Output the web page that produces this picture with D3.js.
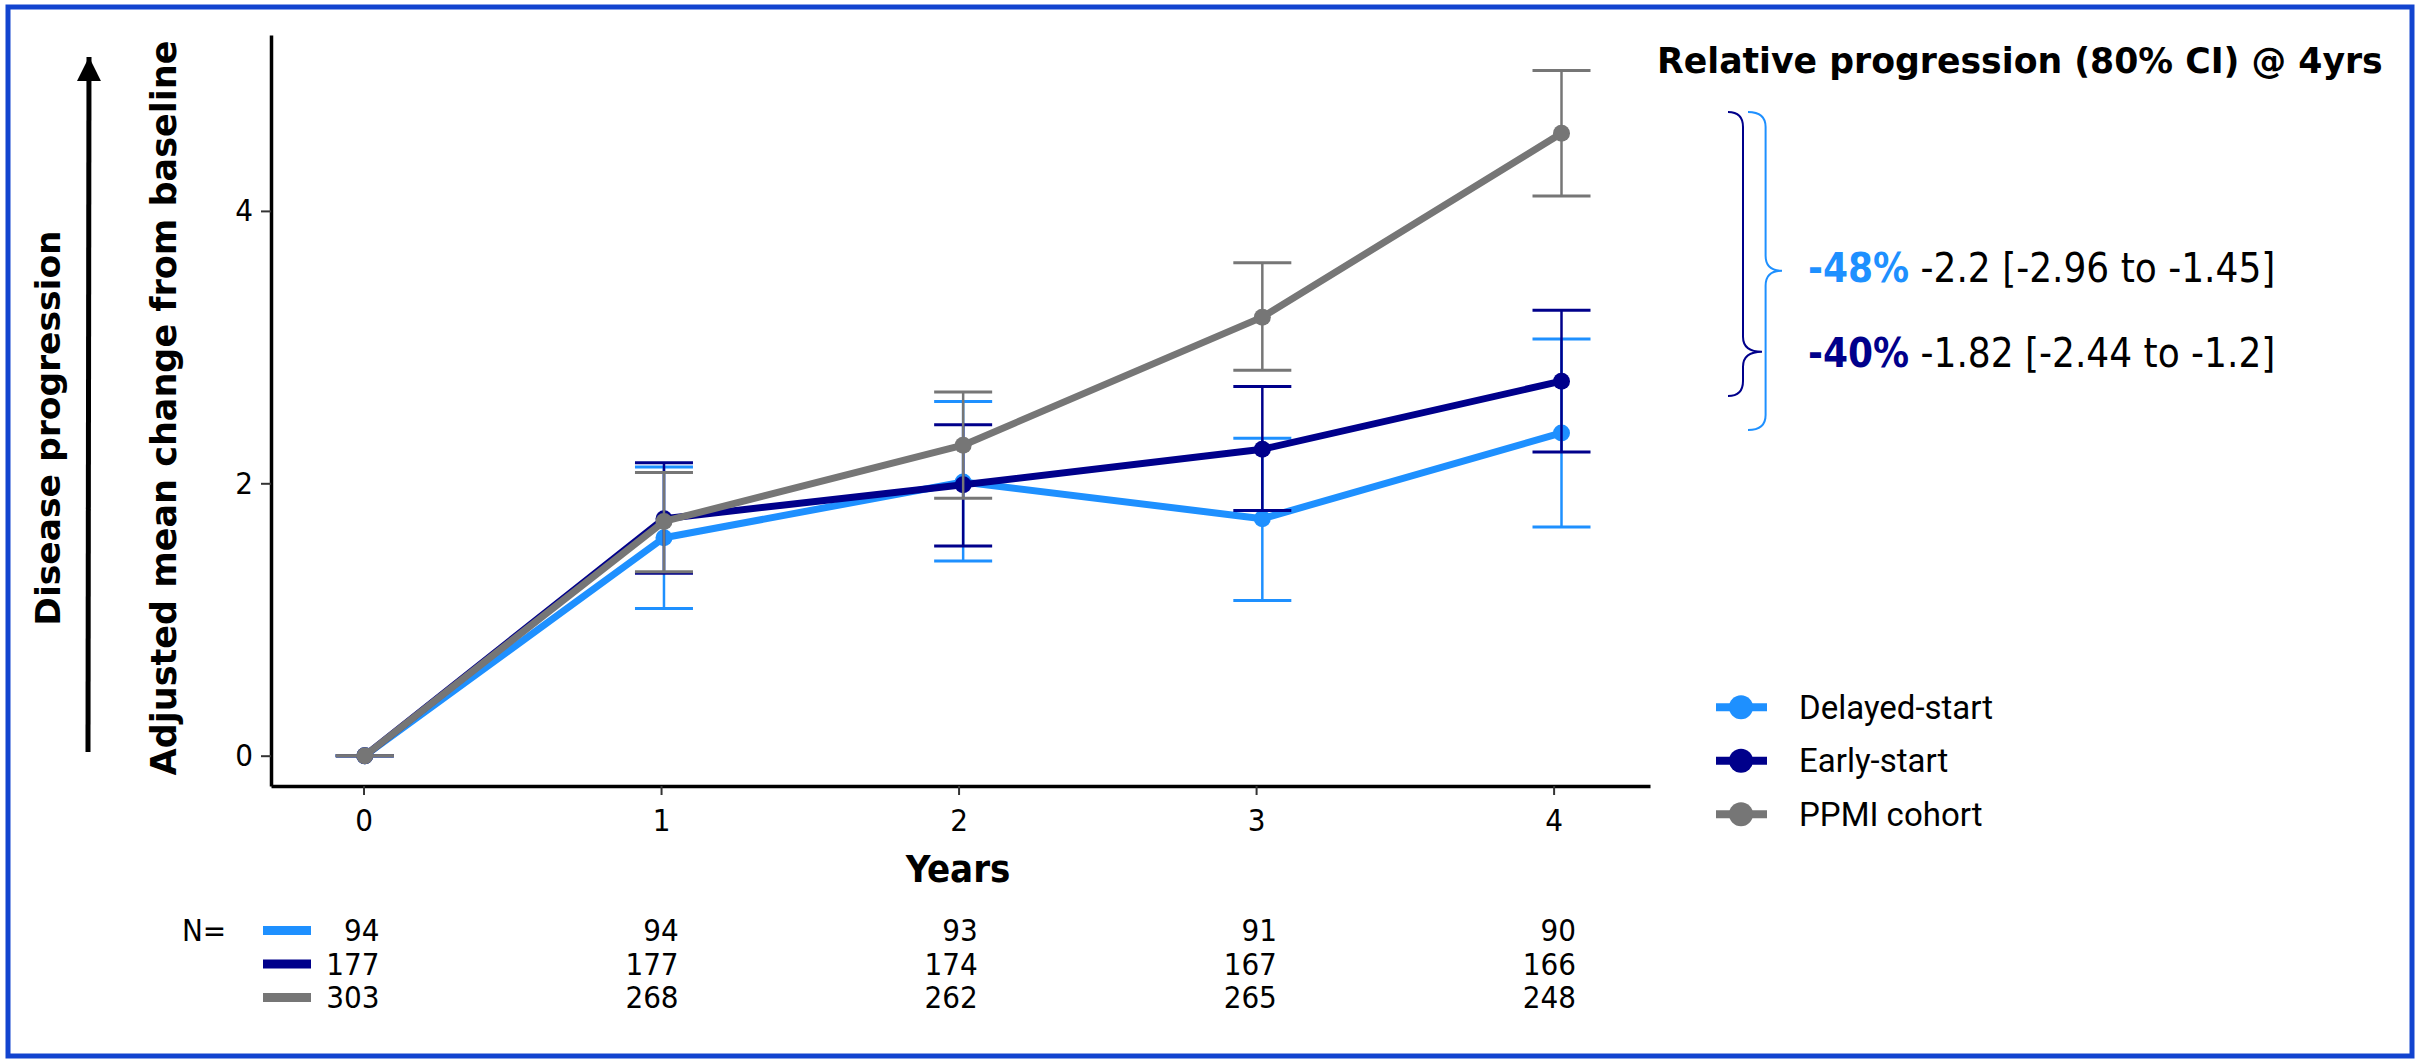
<!DOCTYPE html>
<html>
<head>
<meta charset="utf-8">
<script src="https://cdn.jsdelivr.net/npm/d3@7"></script>
<style>
  body { margin: 0; background: #fff; }
  .narrow { font-family: "Liberation Sans Narrow", "DejaVu Sans Condensed", sans-serif; }
</style>
</head>
<body>
<div id="chart"></div>
<script>
// Data
const years = [0, 1, 2, 3, 4];
const yTicks = [0, 2, 4];
const seriesNames = ["Delayed-start", "Early-start", "PPMI cohort"];
const seriesColors = ["#1e90ff", "#00008b", "#767676"];

const delayedMean = [0, 1.60, 2.01, 1.74, 2.37];
const delayedLow  = [0, 1.08, 1.43, 1.14, 1.68];
const delayedHigh = [0, 2.12, 2.60, 2.33, 3.06];

const earlyMean = [0, 1.74, 1.99, 2.25, 2.75];
const earlyLow  = [0, 1.34, 1.54, 1.80, 2.23];
const earlyHigh = [0, 2.15, 2.43, 2.71, 3.27];

const ppmiMean = [0, 1.72, 2.28, 3.22, 4.57];
const ppmiLow  = [0, 1.35, 1.89, 2.83, 4.11];
const ppmiHigh = [0, 2.08, 2.67, 3.62, 5.03];

const nDelayed = [94, 94, 93, 91, 90];
const nEarly   = [177, 177, 174, 167, 166];
const nPpmi    = [303, 268, 262, 265, 248];

const relPct   = ["-48%", "-40%"];
const relText  = ["-2.2 [-2.96 to -1.45]", "-1.82 [-2.44 to -1.2]"];

const W = 2418, H = 1059;

const svg = d3.select("#chart").append("svg")
    .attr("width", W)
    .attr("height", H);

// Outer blue frame
svg.append("rect")
    .attr("x", 8).attr("y", 7)
    .attr("width", 2404)
    .attr("height", 1049)
    .attr("fill", "none")
    .attr("stroke", "#1244cf")
    .attr("stroke-width", 5);

// Scales
const x = d3.scaleLinear().domain([-0.311, 4.324]).range([271, 1650]);
const xp = d3.scaleLinear().domain([0, 4]).range([364.8, 1561.5]);   // marks sit slightly right of ticks
const y = d3.scaleLinear().domain([-0.2225, 5.2915]).range([786, 35]);
const nx = d3.scaleLinear().domain([0, 4]).range([379.5, 1576]);

// Axes
const xAxis = svg.append("g")
    .attr("transform", "translate(0,786)")
    .call(d3.axisBottom(x).tickValues(years).tickFormat(d3.format("d"))
      .tickSize(9).tickSizeOuter(0).tickPadding(14));
const yAxis = svg.append("g")
    .attr("transform", "translate(271,0)")
    .call(d3.axisLeft(y).tickValues(yTicks).tickFormat(d3.format("d"))
      .tickSize(10).tickSizeOuter(0).tickPadding(8));

[xAxis, yAxis].forEach(g => {
  g.select(".domain").attr("stroke", "#000").attr("stroke-width", 3.5);
  g.selectAll(".tick line").attr("stroke", "#333").attr("stroke-width", 2);
  g.selectAll(".tick text")
      .attr("class", "narrow")
      .style("font-size", "31px")
      .attr("fill", "#000");
});

// Axis titles
svg.append("text")
    .attr("class", "narrow")
    .attr("x", 958).attr("y", 882)
    .attr("text-anchor", "middle")
    .style("font-size", "38px")
    .style("font-weight", "bold")
    .text("Years");

svg.append("text")
    .attr("transform", "translate(176,408) rotate(-90)")
    .attr("text-anchor", "middle")
    .style("font-family", "'DejaVu Sans', sans-serif")
    .style("font-size", "35px")
    .style("font-weight", "bold")
    .text("Adjusted mean change from baseline");

svg.append("text")
    .attr("transform", "translate(60,428) rotate(-90)")
    .attr("text-anchor", "middle")
    .style("font-family", "'DejaVu Sans', sans-serif")
    .style("font-size", "34.5px")
    .style("font-weight", "bold")
    .text("Disease progression");

// Disease progression arrow
svg.append("defs").append("marker")
    .attr("id", "arrow")
    .attr("viewBox", "0 0 10 10")
    .attr("refX", 10).attr("refY", 5)
    .attr("markerWidth", 4.8).attr("markerHeight", 4.8)
    .attr("markerUnits", "strokeWidth")
    .attr("orient", "auto")
  .append("path")
    .attr("d", "M0,0 L10,5 L0,10 Z")
    .attr("fill", "#000");

svg.append("line")
    .attr("x1", 88).attr("y1", 752)
    .attr("x2", 89).attr("y2", 57)
    .attr("stroke", "#000")
    .attr("stroke-width", 5)
    .attr("marker-end", "url(#arrow)");

// Series
const series = [
  {name: seriesNames[0], color: seriesColors[0], mean: delayedMean, low: delayedLow, high: delayedHigh},
  {name: seriesNames[1], color: seriesColors[1], mean: earlyMean, low: earlyLow, high: earlyHigh},
  {name: seriesNames[2], color: seriesColors[2], mean: ppmiMean, low: ppmiLow, high: ppmiHigh}
];

const line = d3.line()
    .x((d, i) => xp(years[i]))
    .y(d => y(d));

const capHalf = 29;

series.forEach(s => {
  const g = svg.append("g");

  // Error bars
  const eb = g.selectAll(".eb")
      .data(years)
    .enter().append("g");
  eb.append("line")
      .attr("x1", d => xp(d)).attr("x2", d => xp(d))
      .attr("y1", (d, i) => y(s.low[i])).attr("y2", (d, i) => y(s.high[i]))
      .attr("stroke", s.color).attr("stroke-width", 2.5);
  eb.append("line")
      .attr("x1", d => xp(d) - capHalf).attr("x2", d => xp(d) + capHalf)
      .attr("y1", (d, i) => y(s.high[i])).attr("y2", (d, i) => y(s.high[i]))
      .attr("stroke", s.color).attr("stroke-width", 3);
  eb.append("line")
      .attr("x1", d => xp(d) - capHalf).attr("x2", d => xp(d) + capHalf)
      .attr("y1", (d, i) => y(s.low[i])).attr("y2", (d, i) => y(s.low[i]))
      .attr("stroke", s.color).attr("stroke-width", 3);

  // Mean line
  g.append("path")
      .datum(s.mean)
      .attr("d", line)
      .attr("fill", "none")
      .attr("stroke", s.color)
      .attr("stroke-width", 7)
      .attr("stroke-linejoin", "round");

  // Points
  g.selectAll(".dot")
      .data(s.mean)
    .enter().append("circle")
      .attr("cx", (d, i) => xp(years[i]))
      .attr("cy", d => y(d))
      .attr("r", 8.5)
      .attr("fill", s.color);
});

// Legend
const legend = svg.selectAll(".legend")
    .data(series)
  .enter().append("g")
    .attr("class", "legend")
    .attr("transform", (d, i) => "translate(1716," + (707.3 + i * 53.5) + ")");

legend.append("line")
    .attr("x1", 0).attr("x2", 51)
    .attr("stroke", d => d.color)
    .attr("stroke-width", 8);
legend.append("circle")
    .attr("cx", 25).attr("r", 12)
    .attr("fill", d => d.color);
legend.append("text")
    .attr("x", 83)
    .attr("dy", ".35em")
    .style("font-family", "Roboto, sans-serif")
    .style("font-size", "33px")
    .text(d => d.name);

// N at risk table
svg.append("text")
    .attr("class", "narrow")
    .attr("x", 182).attr("y", 930)
    .attr("dy", ".35em")
    .style("font-size", "31px")
    .style("font-weight", "300")
    .text("N=");

const nRows = [nDelayed, nEarly, nPpmi];
nRows.forEach((row, r) => {
  const yy = 930.5 + r * 33.5;
  svg.append("rect")
      .attr("x", 263).attr("y", yy - 4.5)
      .attr("width", 48).attr("height", 9)
      .attr("fill", seriesColors[r]);
  svg.selectAll(".n" + r)
      .data(row)
    .enter().append("text")
      .attr("class", "narrow")
      .attr("x", (d, i) => nx(years[i]))
      .attr("y", yy)
      .attr("dy", ".35em")
      .attr("text-anchor", "end")
      .style("font-size", "31px")
      .text(d => d);
});

// Relative progression panel
svg.append("text")
    .attr("x", 1657).attr("y", 73)
    .style("font-family", "'DejaVu Sans', sans-serif")
    .style("font-size", "34.7px")
    .style("font-weight", "bold")
    .text("Relative progression (80% CI) @ 4yrs");

function brace(hook, spine, tip, top, mid, bottom) {
  const r = 15;
  return `M${hook},${top} Q${spine},${top} ${spine},${top + r}` +
         ` L${spine},${mid - r} Q${spine},${mid} ${tip},${mid}` +
         ` Q${spine},${mid} ${spine},${mid + r}` +
         ` L${spine},${bottom - r} Q${spine},${bottom} ${hook},${bottom}`;
}

svg.append("path")
    .attr("d", brace(1728, 1743, 1762, 112, 351.7, 396))
    .attr("fill", "none").attr("stroke", seriesColors[1]).attr("stroke-width", 2);
svg.append("path")
    .attr("d", brace(1748, 1765.6, 1782, 112, 270.7, 430))
    .attr("fill", "none").attr("stroke", seriesColors[0]).attr("stroke-width", 2);

relPct.forEach((p, i) => {
  const t = svg.append("text")
      .attr("class", "narrow")
      .attr("x", 1808).attr("y", 281.7 + i * 85)
      .style("font-size", "40px");
  t.append("tspan")
      .style("font-weight", "bold")
      .attr("fill", seriesColors[i])
      .text(p);
  t.append("tspan")
      .attr("fill", "#000")
      .text(" " + relText[i]);
});
</script>
</body>
</html>
